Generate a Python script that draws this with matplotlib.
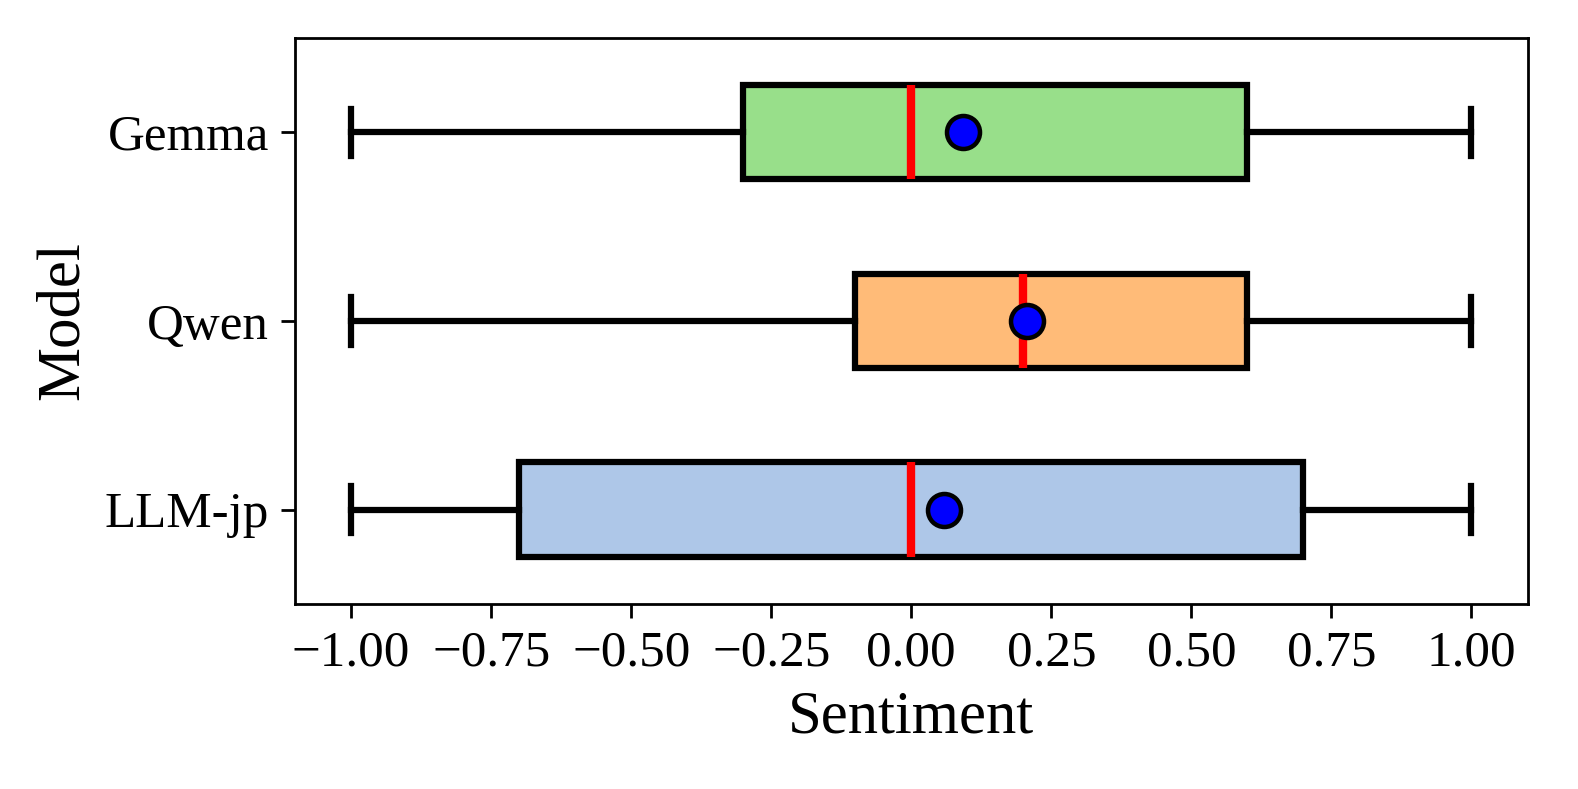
import matplotlib
matplotlib.use('Agg')
import matplotlib.pyplot as plt

plt.rcParams['font.family'] = ['Liberation Serif', 'DejaVu Serif']

# models from bottom to top
models = ['LLM-jp', 'Qwen', 'Gemma']
whislo = [-1.0, -1.0, -1.0]
q1 = [-0.7, -0.1, -0.3]
med = [0.0, 0.2, 0.0]
q3 = [0.7, 0.6, 0.6]
whishi = [1.0, 1.0, 1.0]
means = [0.059, 0.207, 0.093]
colors = ['#aec7e8', '#ffbb78', '#98df8a']

stats = []
for i in range(len(models)):
    stats.append({'label': models[i], 'whislo': whislo[i], 'q1': q1[i], 'med': med[i],
                  'q3': q3[i], 'whishi': whishi[i], 'mean': means[i], 'fliers': []})

fig = plt.figure(figsize=(6.312, 3.156), dpi=250)
ax = fig.add_axes([0.187, 0.2345, 0.781, 0.7175])

bp = ax.bxp(stats, vert=False, widths=0.5, patch_artist=True, showmeans=True,
            boxprops=dict(linewidth=1.8, edgecolor='black'),
            whiskerprops=dict(linewidth=1.8),
            capprops=dict(linewidth=1.8),
            medianprops=dict(color='red', linewidth=2.4),
            meanprops=dict(marker='o', markerfacecolor='blue', markeredgecolor='black',
                           markersize=9.5, markeredgewidth=1.3))
for patch, c in zip(bp['boxes'], colors):
    patch.set_facecolor(c)

ax.set_xticks([-1.0, -0.75, -0.5, -0.25, 0.0, 0.25, 0.5, 0.75, 1.0])
ax.tick_params(labelsize=14.7, length=4)
ax.set_xlabel('Sentiment', fontsize=17.5)
ax.set_ylabel('Model', fontsize=17.5)

fig.savefig('out.png', dpi=250)
